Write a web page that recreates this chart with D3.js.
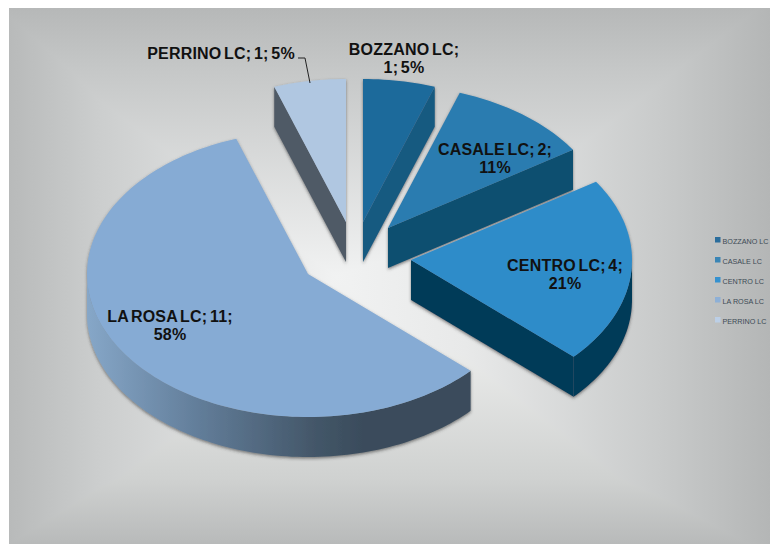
<!DOCTYPE html>
<html>
<head>
<meta charset="utf-8">
<script src="https://cdn.jsdelivr.net/npm/d3@7"></script>
<style>
html, body { margin: 0; padding: 0; background: #fff; overflow: hidden; }
svg { display: block; }
text { font-family: "Liberation Sans", Arial, sans-serif; }
.label { font-size: 16px; font-weight: bold; fill: #111; text-anchor: middle; letter-spacing: 0.2px; word-spacing: -2px; }
.legend { font-size: 7.2px; fill: #3c4a55; }
</style>
</head>
<body>
<div id="svg"></div>
<script>
// chart data
var categories = ["BOZZANO LC", "CASALE LC", "CENTRO LC", "LA ROSA LC", "PERRINO LC"];
var values = [1, 2, 4, 11, 1];
var legendLabels = ["BOZZANO LC", "CASALE LC", "CENTRO  LC", "LA ROSA LC", "PERRINO LC"];

var width = 770,
    height = 544;

// ellipse of the tilted pie, and how far the side walls drop
var rx = 221,
    ry = 143,
    depth = 40;

// exploded slice tips, same order as categories
var tips = [[363, 222], [388, 228], [411, 260], [308, 274], [346, 222]];

var topColors = ["#1f6a9b", "#2a7cb0", "#2f8cc9", "#86abd4", "#b0c7e1"];
var wallColors = ["#195a80", "#0f5070", "#053a58", "#3a4c5c", "#4f5a66"];
var swatchColors = ["#2a6d9c", "#3a85b5", "#3591cf", "#8eb0d6", "#bccfe6"];

// label lines and where they sit
var labelAt = [
    {x: 404, y: 55, dy: 18},
    {x: 495, y: 155, dy: 18},
    {x: 565, y: 271, dy: 18},
    {x: 170, y: 322, dy: 18},
    {x: 221, y: 59, dy: 0}
];

var total = d3.sum(values);
var labelLines = categories.map(function(c, i) {
    var pct = Math.round(values[i] / total * 100) + "%";
    if (i === 0) return [c + ";", values[i] + "; " + pct];
    if (i === 4) return [c + "; " + values[i] + "; " + pct];
    return [c + "; " + values[i] + ";", pct];
});

var svg = d3.select("#svg").append("svg")
    .attr("width", width)
    .attr("height", height);

var defs = svg.append("defs");

function gradient(id, x1, y1, x2, y2, stops) {
    var g = defs.append("linearGradient")
        .attr("id", id)
        .attr("gradientUnits", "userSpaceOnUse")
        .attr("x1", x1).attr("y1", y1).attr("x2", x2).attr("y2", y2);
    stops.forEach(function(s) {
        g.append("stop").attr("offset", s[0]).attr("stop-color", s[1]);
    });
}

// background: darken of two gradients gives the rectangular path gradient look
gradient("bgH", 9, 0, 770, 0, [[0, "#b8baba"], [0.12, "#cccece"], [0.43, "#f1f2f2"], [0.6, "#e8e9e9"], [0.86, "#c8caca"], [1, "#b4b6b6"]]);
gradient("bgV", 0, 8, 0, 544, [[0, "#b6b8b8"], [0.12, "#c6c8c8"], [0.5, "#f1f2f2"], [0.62, "#ecedec"], [0.88, "#cfd1d0"], [1, "#b8baba"]]);
// coordinates are local to the la rosa group, so they start at its tip
gradient("roseWall", -rx, 0, 162, 0, [[0, "#86a7c8"], [0.3, "#617c98"], [0.6, "#435668"], [0.72, "#3a4c5c"], [1, "#3a4c5c"]]);

var shadow = defs.append("filter").attr("id", "shadow")
    .attr("x", "-10%").attr("y", "-10%").attr("width", "120%").attr("height", "120%");
shadow.append("feDropShadow")
    .attr("dx", 0).attr("dy", 1.5).attr("stdDeviation", 1.8)
    .attr("flood-color", "#333").attr("flood-opacity", 0.6);

var bg = svg.append("g").style("isolation", "isolate");
bg.append("rect").attr("x", 9).attr("y", 8).attr("width", 761).attr("height", 536).attr("fill", "url(#bgH)");
bg.append("rect").attr("x", 9).attr("y", 8).attr("width", 761).attr("height", 536).attr("fill", "url(#bgV)")
    .style("mix-blend-mode", "darken");

var pie = d3.pie().sort(null).startAngle(0).endAngle(2 * Math.PI);
var slices = pie(values);

// unit circle to screen, relative to the slice tip
var xs = d3.scaleLinear().domain([-1, 1]).range([-rx, rx]);
var ys = d3.scaleLinear().domain([-1, 1]).range([-ry, ry]);
var line = d3.line();

function rim(a0, a1, drop) {
    var n = Math.max(2, Math.ceil((a1 - a0) * 40));
    return d3.range(n + 1).map(function(k) {
        var a = a0 + (a1 - a0) * k / n;
        return [xs(Math.sin(a)), ys(-Math.cos(a)) + drop];
    });
}

function radialWall(a) {
    var p = [xs(Math.sin(a)), ys(-Math.cos(a))];
    return line([[0, 0], p, [p[0], p[1] + depth], [0, depth]]) + "Z";
}

// back slices first, centro sits on top of the casale wall
var order = [3, 4, 0, 1, 2];

order.forEach(function(i) {
    var s = slices[i];
    var g = svg.append("g")
        .attr("transform", "translate(" + tips[i][0] + "," + tips[i][1] + ")")
        .attr("filter", "url(#shadow)");
    var wall = i === 3 ? "url(#roseWall)" : wallColors[i];

    // outer wall, only the front half of the ellipse shows
    var a0 = Math.max(s.startAngle, Math.PI / 2),
        a1 = Math.min(s.endAngle, 3 * Math.PI / 2);
    if (a1 > a0) {
        var pts = rim(a0, a1, 0).concat(rim(a0, a1, depth).reverse());
        g.append("path").attr("d", line(pts) + "Z").attr("fill", wall);
    }
    // cut faces turned to the viewer
    if (Math.sin(s.startAngle) < -1e-6)
        g.append("path").attr("d", radialWall(s.startAngle)).attr("fill", wallColors[i]);
    if (Math.sin(s.endAngle) > 1e-6)
        g.append("path").attr("d", radialWall(s.endAngle)).attr("fill", wallColors[i]);

    g.append("path")
        .attr("d", line([[0, 0]].concat(rim(s.startAngle, s.endAngle, 0))) + "Z")
        .attr("fill", topColors[i]);
});

// leader for the perrino label
svg.append("path")
    .attr("d", line([[298, 58], [305, 58], [310, 83]]))
    .attr("fill", "none")
    .attr("stroke", "#222")
    .attr("stroke-width", 1);

labelLines.forEach(function(lines, i) {
    var t = svg.append("text").attr("class", "label");
    lines.forEach(function(l, k) {
        t.append("tspan")
            .attr("x", labelAt[i].x)
            .attr("y", labelAt[i].y + k * labelAt[i].dy)
            .text(l);
    });
});

// legend
var legendY = d3.scalePoint().domain(categories).range([241, 321]);
var legend = svg.selectAll("g.legend-item")
    .data(categories).enter().append("g")
    .attr("class", "legend-item")
    .attr("transform", function(d) { return "translate(715," + legendY(d) + ")"; });

legend.append("rect")
    .attr("x", 0).attr("y", -4)
    .attr("width", 5.5).attr("height", 5.5)
    .attr("fill", function(d, i) { return swatchColors[i]; });

legend.append("text")
    .attr("class", "legend")
    .attr("x", 7.5)
    .attr("y", 3)
    .text(function(d, i) { return legendLabels[i]; });
</script>
</body>
</html>
